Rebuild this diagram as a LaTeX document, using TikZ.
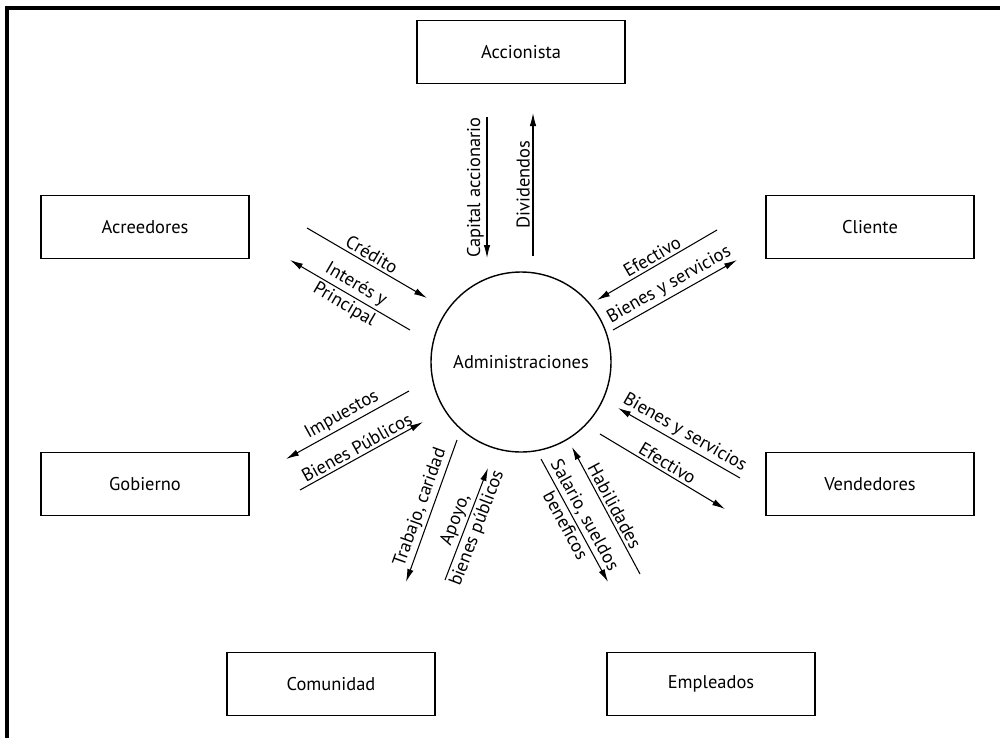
\documentclass[tikz,border=0pt]{standalone}
\usepackage{fontspec}
\setmainfont{PT Sans}
\usetikzlibrary{arrows.meta}

\begin{document}
\begin{tikzpicture}[x=0.2mm,y=-0.2mm,
  party/.style={draw,thick,minimum width=41.6mm,minimum height=12.6mm,
    font=\fontsize{10.5}{12}\selectfont},
  flow/.style={semithick,-{Latex[length=2.6mm,width=1.3mm]}},
  lbl/.style={sloped,font=\fontsize{10.5}{12}\selectfont,inner sep=1.5pt},
  uplbl/.style={rotate=90,anchor=south,font=\fontsize{10.5}{12}\selectfont,inner sep=1.5pt}]
\useasboundingbox (0,0) rectangle (1000,738);
%% frame
\draw[line width=2.3pt] (7,738) -- (7,8) -- (1000,8);

%% centre and the parties
\node[draw,thick,circle,minimum size=36mm,font=\fontsize{10.5}{12}\selectfont]
  (admin) at (521,362) {Administraciones};
\node[party] (accionista) at (521,52) {Accionista};
\node[party] (acreedores) at (145,227) {Acreedores};
\node[party] (cliente) at (870,227) {Cliente};
\node[party] (gobierno) at (145,484) {Gobierno};
\node[party] (vendedores) at (870,484) {Vendedores};
\node[party] (comunidad) at (331,684) {Comunidad};
\node[party] (empleados) at (711,684) {Empleados};

%% ends of the flows
\coordinate (capA) at (487,117); \coordinate (capB) at (487,258);
\coordinate (divA) at (533,256); \coordinate (divB) at (533,113);
\coordinate (creA) at (307,228); \coordinate (creB) at (427,298);
\coordinate (intA) at (410,330); \coordinate (intB) at (290,260);
\coordinate (efcA) at (717,230); \coordinate (efcB) at (597,300);
\coordinate (bscA) at (613,330); \coordinate (bscB) at (737,260);
\coordinate (bsvA) at (740,478); \coordinate (bsvB) at (618,408);
\coordinate (efvA) at (600,434); \coordinate (efvB) at (725,509);
\coordinate (impA) at (409,391); \coordinate (impB) at (286,459);
\coordinate (bpuA) at (300,490); \coordinate (bpuB) at (423,422);
\coordinate (traA) at (457,440); \coordinate (traB) at (406,582);
\coordinate (apoA) at (445,580); \coordinate (apoB) at (488,468);
\coordinate (salA) at (541,459); \coordinate (salB) at (608,582);
\coordinate (habA) at (640,574); \coordinate (habB) at (572,447);

%% Accionista
\draw[flow] (capA) -- node[uplbl] {Capital accionario} (capB);
\draw[flow] (divA) -- node[lbl,above] {Dividendos} (divB);
%% Acreedores
\draw[flow] (creA) -- node[lbl,above] {Cr\'edito} (creB);
\draw[flow] (intA) -- node[lbl,above] {Inter\'es y} node[lbl,below] {Principal} (intB);
%% Cliente
\draw[flow] (efcA) -- node[lbl,above] {Efectivo} (efcB);
\draw[flow] (bscA) -- node[lbl,above] {Bienes y servicios} (bscB);
%% Vendedores
\draw[flow] (bsvA) -- node[lbl,above] {Bienes y servicios} (bsvB);
\draw[flow] (efvA) -- node[lbl,above] {Efectivo} (efvB);
%% Gobierno
\draw[flow] (impA) -- node[lbl,above] {Impuestos} (impB);
\draw[flow] (bpuA) -- node[lbl,above] {Bienes P\'ublicos} (bpuB);
%% Comunidad
\draw[flow] (traA) -- node[lbl,above] {Trabajo, caridad} (traB);
\draw[flow] (apoA) -- node[lbl,above] {Apoyo,} node[lbl,below] {bienes p\'ublicos} (apoB);
%% Empleados
\draw[flow] (salA) -- node[lbl,above] {Salario, sueldos} node[lbl,below] {beneficos} (salB);
\draw[flow] (habA) -- node[lbl,above] {Habilidades} (habB);
\end{tikzpicture}
\end{document}
